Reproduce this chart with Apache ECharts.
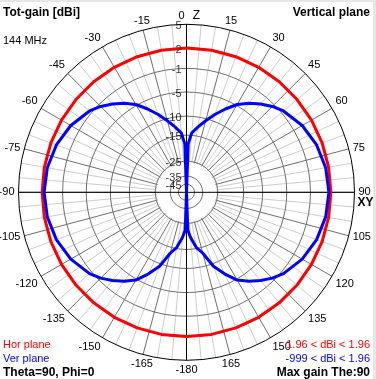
<!DOCTYPE html>
<html>
<head>
<meta charset="utf-8">
<script src="https://cdn.jsdelivr.net/npm/echarts@6/dist/echarts.min.js"></script>
<style>
html, body { margin: 0; padding: 0; background: #fff; }
#wrap { position: relative; width: 376px; height: 379px; }
#chart { width: 376px; height: 379px; }
.edge-top { position: absolute; left: 0; top: 0; width: 376px; height: 2px; background: #e6e6e6; }
.edge-right { position: absolute; right: 0; top: 0; width: 3px; height: 379px; background: #e6e6e6; }
</style>
</head>
<body>
<div id="wrap">
  <div id="chart"></div>
  <div class="edge-top"></div>
  <div class="edge-right"></div>
</div>
<script>
// gain rings (dBi) and their labels, outer circle = 5
var ringDb = [5, 2, -1, -5, -10, -15, -25, -35, -45];
var ringText = ['5', '2', '-1', '-5', '-10', '-15', '-25', '-35', '-45'];

// Hor plane (red), theta in degrees, gain in dBi
var horAngles = [0, 10, 20, 30, 40, 50, 60, 70, 80, 90, 100, 110, 120, 130, 140, 150, 160, 170, 180,
  190, 200, 210, 220, 230, 240, 250, 260, 270, 280, 290, 300, 310, 320, 330, 340, 350, 360];
var horGain = [1.96, 1.96, 1.96, 1.96, 1.96, 1.96, 1.96, 1.96, 1.96, 1.96, 1.96, 1.96, 1.96, 1.96, 1.96, 1.96, 1.96, 1.96, 1.96,
  1.96, 1.96, 1.96, 1.96, 1.96, 1.96, 1.96, 1.96, 1.96, 1.96, 1.96, 1.96, 1.96, 1.96, 1.96, 1.96, 1.96, 1.96];

// Ver plane (blue)
var verAngles = [0, 2, 5, 10, 15, 20, 25, 30, 35, 40, 45, 50, 60, 70, 80, 90,
  100, 110, 120, 130, 135, 140, 145, 150, 155, 160, 165, 170, 175, 178, 180,
  182, 185, 190, 195, 200, 205, 210, 215, 220, 225, 230, 240, 250, 260, 270,
  280, 290, 300, 310, 315, 320, 325, 330, 335, 340, 345, 350, 355, 358, 360];
var verGain = [-999, -17.8, -14.3, -12.4, -10.5, -8.5, -6.6, -4.8, -3.5, -2.4, -1.4, -0.6, 0.45, 1.15, 1.55, 1.7,
  1.55, 1.15, 0.45, -0.6, -1.4, -2.4, -3.5, -4.8, -7.0, -9.4, -13.3, -15.4, -19, -21.8, -999,
  -21.8, -19, -15.4, -13.3, -9.4, -7.0, -4.8, -3.5, -2.4, -1.4, -0.6, 0.45, 1.15, 1.55, 1.7,
  1.55, 1.15, 0.45, -0.6, -1.4, -2.4, -3.5, -4.8, -6.6, -8.5, -10.5, -12.4, -14.3, -17.8, -999];

var FONT = 'Liberation Sans, Arial, sans-serif';
var CX = 186.5, CY = 192.3, R = 168;

// log-type gain scale, 1 = outer circle (5 dBi)
function scale(db) {
  return Math.exp(0.0516 * (db - 5) - 0.00023 * (db * db - 25));
}

function angleLabel(v) {
  if (v === 0 || v === 360) return '';
  if (v === 180) return '-180';
  return v < 180 ? String(v) : String(v - 360);
}

var series = [];

// gray rings
ringDb.slice(1).forEach(function (db) {
  var pts = [];
  for (var a = 0; a <= 360; a += 5) pts.push([scale(db), a]);
  series.push({
    type: 'line', coordinateSystem: 'polar', polarIndex: 1, data: pts,
    symbol: 'none', silent: true, z: 1,
    lineStyle: { color: '#6e6e6e', width: 1 }
  });
});

// axes cross
series.push({
  type: 'line', coordinateSystem: 'polar', polarIndex: 1, clip: false,
  data: [[1.07, 0], [1, 180]], symbol: 'none', silent: true, z: 2,
  lineStyle: { color: '#000', width: 1 }
});
series.push({
  type: 'line', coordinateSystem: 'polar', polarIndex: 1, clip: false,
  data: [[1.02, 270], [1, 90]], symbol: 'none', silent: true, z: 2,
  lineStyle: { color: '#000', width: 1 }
});

// ring labels
series.push({
  type: 'scatter', coordinateSystem: 'polar', polarIndex: 1, symbolSize: 0, z: 5,
  data: ringDb.map(function (db, i) { return { value: [scale(db), 0], name: ringText[i] }; }),
  label: {
    show: true, position: 'left', distance: 5, offset: [0, 2],
    formatter: '{b}', color: '#000', fontSize: 11, fontFamily: FONT
  }
});

series.push({
  name: 'Hor plane', type: 'line', coordinateSystem: 'polar', polarIndex: 1,
  data: horAngles.map(function (a, i) { return [scale(horGain[i]), a]; }),
  symbol: 'none', z: 3, lineStyle: { color: '#ff0000', width: 3 }
});
series.push({
  name: 'Ver plane', type: 'line', coordinateSystem: 'polar', polarIndex: 1,
  data: verAngles.map(function (a, i) { return [scale(verGain[i]), a]; }),
  symbol: 'none', z: 4, lineStyle: { color: '#0000ff', width: 3 }
});

function txt(text, x, y, opt) {
  return {
    type: 'text', x: x, y: y, silent: true, z: 10,
    style: Object.assign({
      text: text, fill: '#000', font: '11px ' + FONT, align: 'left', verticalAlign: 'middle'
    }, opt || {})
  };
}

var chart = echarts.init(document.getElementById('chart'));
chart.setOption({
  backgroundColor: '#fff',
  animation: false,
  polar: [
    { center: [CX, CY], radius: [30, R] },
    { center: [CX, CY], radius: R }
  ],
  angleAxis: [
    {
      polarIndex: 0, type: 'value', min: 0, max: 360, interval: 5,
      startAngle: 90, clockwise: true,
      axisLine: { show: false }, axisTick: { show: false }, axisLabel: { show: false },
      splitLine: { show: true, lineStyle: { color: ['#6e6e6e', '#cdcdcd', '#cdcdcd'], width: 1 } }
    },
    {
      polarIndex: 1, type: 'value', min: 0, max: 360, interval: 15,
      startAngle: 90, clockwise: true,
      axisLine: { show: true, lineStyle: { color: '#000', width: 1 } },
      axisTick: { show: false },
      splitLine: { show: false },
      axisLabel: { margin: 4, color: '#000', fontSize: 11, fontFamily: FONT, formatter: angleLabel }
    }
  ],
  radiusAxis: [
    { polarIndex: 0, type: 'value', min: 0, max: 1, show: false },
    { polarIndex: 1, type: 'value', min: 0, max: 1, show: false }
  ],
  series: series,
  graphic: [
    txt('Tot-gain [dBi]', 3, 13, { font: 'bold 12px ' + FONT }),
    txt('144 MHz', 3, 41),
    txt('Vertical plane', 370, 13, { font: 'bold 12px ' + FONT, align: 'right' }),
    txt('0', 181.5, 16, { align: 'center' }),
    txt('Z', 196.5, 16, { font: '12px ' + FONT, align: 'center' }),
    txt('XY', 365.5, 203, { font: 'bold 12px ' + FONT, align: 'center' }),
    txt('Hor plane', 3, 345, { fill: '#ff0000' }),
    txt('Ver plane', 3, 359, { fill: '#0000ff' }),
    txt('Theta=90, Phi=0', 3, 372.5, { font: 'bold 12px ' + FONT }),
    txt('1.96 < dBi < 1.96', 370, 344.5, { fill: '#ff0000', align: 'right' }),
    txt('-999 < dBi < 1.96', 370, 359, { fill: '#0000ff', align: 'right' }),
    txt('Max gain The:90', 370, 372.5, { font: 'bold 12px ' + FONT, align: 'right' })
  ]
});
</script>
</body>
</html>
